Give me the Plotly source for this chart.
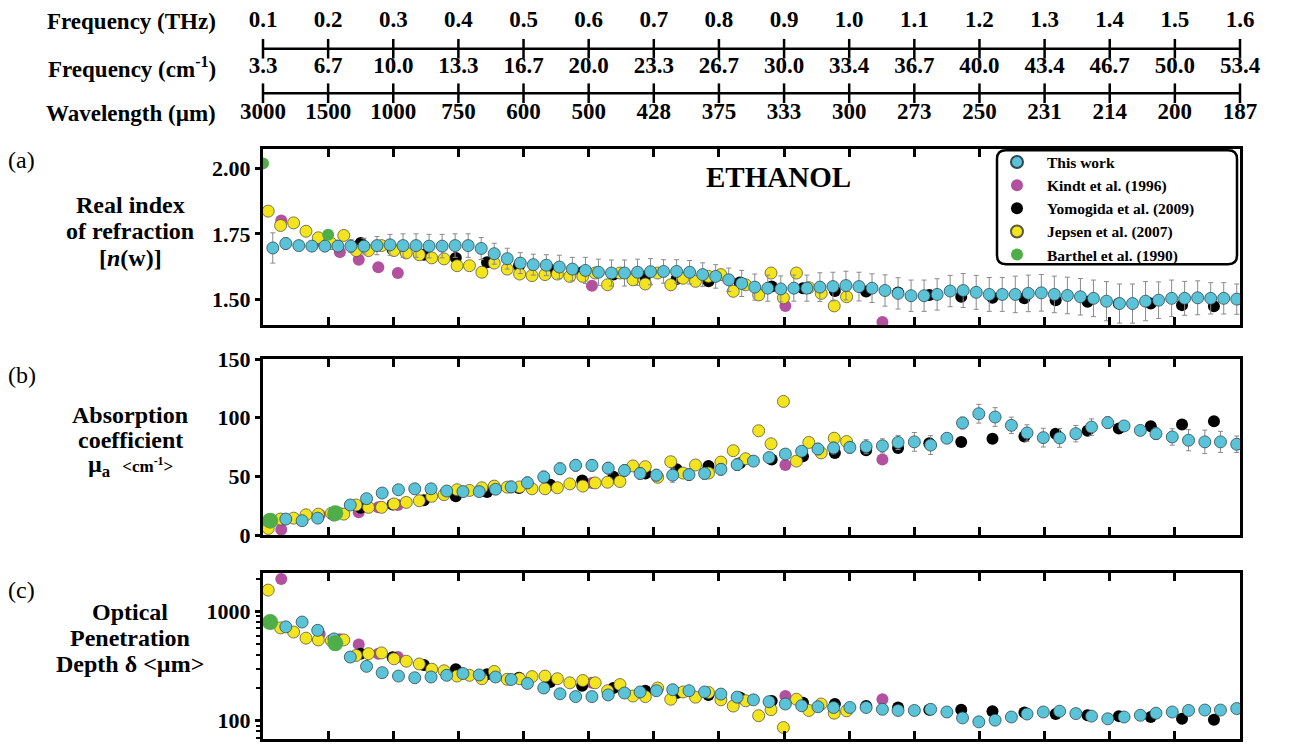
import plotly.graph_objects as go

# ---------------- DATA ----------------
thz_ticks = [0.1, 0.2, 0.3, 0.4, 0.5, 0.6, 0.7, 0.8, 0.9, 1.0, 1.1, 1.2, 1.3, 1.4, 1.5, 1.6]
thz_labels = ["0.1", "0.2", "0.3", "0.4", "0.5", "0.6", "0.7", "0.8", "0.9", "1.0",
              "1.1", "1.2", "1.3", "1.4", "1.5", "1.6"]
wn_labels = ["3.3", "6.7", "10.0", "13.3", "16.7", "20.0", "23.3", "26.7", "30.0", "33.4",
             "36.7", "40.0", "43.4", "46.7", "50.0", "53.4"]
wl_labels = ["3000", "1500", "1000", "750", "600", "500", "428", "375", "333", "300",
             "273", "250", "231", "214", "200", "187"]

# This work - refractive index (panel a)
tw_n_x = [0.115, 0.135, 0.155, 0.175, 0.195, 0.215, 0.235, 0.255, 0.275, 0.295,
          0.315, 0.335, 0.355, 0.375, 0.395, 0.415, 0.435, 0.455, 0.475, 0.495,
          0.515, 0.535, 0.555, 0.575, 0.595, 0.615, 0.635, 0.655, 0.675, 0.695,
          0.715, 0.735, 0.755, 0.775, 0.795, 0.815, 0.835, 0.855, 0.875, 0.895,
          0.915, 0.935, 0.955, 0.975, 0.995, 1.015, 1.035, 1.055, 1.075, 1.095,
          1.115, 1.135, 1.155, 1.175, 1.195, 1.215, 1.235, 1.255, 1.275, 1.295,
          1.315, 1.335, 1.355, 1.375, 1.395, 1.415, 1.435, 1.455, 1.475, 1.495,
          1.515, 1.535, 1.555, 1.575, 1.595]
tw_n = [1.696, 1.713, 1.705, 1.703, 1.703, 1.703, 1.703, 1.703, 1.705, 1.708,
        1.705, 1.705, 1.703, 1.703, 1.705, 1.705, 1.694, 1.674, 1.655, 1.638,
        1.632, 1.630, 1.623, 1.615, 1.610, 1.603, 1.600, 1.600, 1.603, 1.605,
        1.606, 1.606, 1.603, 1.594, 1.587, 1.574, 1.560, 1.546, 1.542, 1.539,
        1.542, 1.542, 1.546, 1.548, 1.552, 1.548, 1.542, 1.533, 1.522, 1.513,
        1.513, 1.518, 1.531, 1.533, 1.526, 1.518, 1.518, 1.518, 1.522, 1.524,
        1.518, 1.514, 1.509, 1.503, 1.492, 1.483, 1.483, 1.492, 1.496, 1.503,
        1.503, 1.505, 1.503, 1.503, 1.500]
tw_n_err = [0.058, 0.022, 0.018, 0.018, 0.020, 0.022, 0.025, 0.030, 0.035, 0.040,
            0.045, 0.045, 0.045, 0.045, 0.045, 0.045, 0.042, 0.040, 0.040, 0.040,
            0.040, 0.040, 0.045, 0.045, 0.050, 0.050, 0.050, 0.050, 0.050, 0.050,
            0.045, 0.045, 0.045, 0.045, 0.045, 0.045, 0.050, 0.050, 0.050, 0.050,
            0.050, 0.050, 0.055, 0.055, 0.055, 0.055, 0.055, 0.060, 0.060, 0.060,
            0.060, 0.060, 0.060, 0.065, 0.065, 0.065, 0.065, 0.070, 0.070, 0.070,
            0.070, 0.070, 0.070, 0.070, 0.075, 0.075, 0.075, 0.075, 0.070, 0.070,
            0.065, 0.065, 0.060, 0.060, 0.058]

# This work - absorption coefficient and penetration depth (panels b, c)
tw_mu_x = [0.135, 0.160, 0.184, 0.209, 0.234, 0.259, 0.283, 0.308, 0.333, 0.358,
           0.382, 0.407, 0.432, 0.457, 0.481, 0.506, 0.531, 0.556, 0.580, 0.605,
           0.630, 0.655, 0.679, 0.704, 0.729, 0.754, 0.778, 0.803, 0.828, 0.853,
           0.877, 0.902, 0.927, 0.952, 0.976, 1.001, 1.026, 1.051, 1.075, 1.100,
           1.125, 1.150, 1.174, 1.199, 1.224, 1.249, 1.273, 1.298, 1.323, 1.348,
           1.372, 1.397, 1.422, 1.447, 1.471, 1.496, 1.521, 1.546, 1.570, 1.595]
tw_mu = [13.6, 12.2, 14.4, 17.0, 25.6, 31.0, 35.8, 38.6, 39.4, 39.4,
         37.5, 37.0, 37.0, 39.0, 41.0, 44.5, 49.5, 56.5, 59.4, 59.4,
         57.0, 55.0, 52.5, 51.0, 51.0, 51.5, 52.5, 56.0, 60.0, 63.0,
         66.0, 69.0, 71.4, 73.3, 74.2, 74.7, 75.3, 76.0, 78.9, 79.4,
         76.7, 82.5, 95.5, 103.4, 100.6, 93.5, 87.0, 83.0, 82.8, 86.4,
         92.0, 95.8, 93.0, 89.2, 86.4, 83.6, 80.8, 79.4, 79.4, 77.4]
tw_mu_err = [1.5, 1.5, 1.5, 1.5, 2, 3, 3, 3, 3, 3,
             3.5, 4, 4, 4, 5, 5, 5, 5, 5, 5,
             5, 5, 5, 5, 6, 5, 5, 5, 5, 4,
             4, 4, 4, 5, 5, 5, 6, 6, 6, 8,
             8, 2, 5, 8, 8, 7, 7, 8, 8, 7,
             7, 5, 3, 3, 5, 7, 9, 10, 9, 7]
tw_delta = [722, 799, 671, 560, 382, 314, 275, 256, 247, 251,
            260, 270, 262, 251, 238, 219, 199, 176, 166, 166,
            172, 179, 183, 188, 192, 188, 183, 175, 164, 155,
            149, 142, 137, 134, 132, 132, 132, 127, 124, 124,
            127, 120, 106, 97.5, 101, 108, 115, 120, 122, 116,
            110, 104, 108, 112, 117, 120, 124, 125, 125, 129]

# Kindt et al. (1996)
kindt_x = [0.128, 0.187, 0.218, 0.247, 0.277, 0.307, 0.605, 0.902, 1.051]
kindt_n = [1.801, 1.722, 1.680, 1.651, 1.622, 1.600, 1.551, 1.474, 1.412]
kindt_mu = [4.7, 17.2, 18.6, 19.4, 23.6, 25.6, 44.4, 59.7, 64.4]
kindt_delta = [1976, 620, 556, 499, 410, 382, 222, 168, 157]

# Yomogida et al. (2009)
yomo_x = [0.250, 0.299, 0.347, 0.396, 0.444, 0.493, 0.541, 0.590, 0.638, 0.687,
          0.735, 0.784, 0.832, 0.881, 0.929, 0.978, 1.026, 1.075, 1.123, 1.172,
          1.220, 1.269, 1.317, 1.366, 1.414, 1.463, 1.511, 1.560]
yomo_n = [1.715, 1.690, 1.670, 1.658, 1.641, 1.628, 1.613, 1.603, 1.594, 1.587,
          1.577, 1.568, 1.564, 1.548, 1.542, 1.531, 1.529, 1.525, 1.516, 1.509,
          1.505, 1.503, 1.496, 1.490, 1.483, 1.483, 1.477, 1.473]
yomo_mu = [23.3, 26.1, 29.7, 33.0, 36.7, 40.0, 42.8, 46.4, 49.7, 52.5,
           56.1, 58.9, 61.1, 64.4, 67.2, 70.0, 72.2, 74.2, 78.3, 79.3,
           82.0, 84.0, 86.4, 88.8, 90.9, 92.7, 94.3, 96.9]
yomo_delta = [410, 380, 323, 296, 266, 247, 226, 209, 199, 188,
              179, 172, 163, 151, 146, 142, 136, 132, 126, 126,
              122, 119, 115, 112, 110, 108, 104, 102]

# Jepsen et al. (2007)
jep_x = [0.108, 0.127, 0.147, 0.166, 0.185, 0.205, 0.224, 0.243, 0.262, 0.282,
         0.301, 0.320, 0.340, 0.359, 0.378, 0.398, 0.417, 0.436, 0.455, 0.475,
         0.494, 0.513, 0.533, 0.552, 0.571, 0.591, 0.610, 0.629, 0.648, 0.668,
         0.687, 0.706, 0.726, 0.745, 0.764, 0.784, 0.803, 0.822, 0.841, 0.861,
         0.880, 0.899, 0.919, 0.938, 0.957, 0.977, 0.996]
jep_n = [1.837, 1.782, 1.792, 1.760, 1.735, 1.713, 1.744, 1.686, 1.686, 1.705,
         1.686, 1.677, 1.670, 1.658, 1.654, 1.628, 1.628, 1.603, 1.638, 1.615,
         1.596, 1.590, 1.594, 1.596, 1.587, 1.587, 1.600, 1.555, 1.600, 1.574,
         1.558, 1.600, 1.555, 1.580, 1.568, 1.587, 1.594, 1.530, 1.555, 1.516,
         1.600, 1.505, 1.600, 1.544, 1.522, 1.474, 1.509]
jep_mu = [5.6, 13.6, 14.4, 17.2, 17.8, 18.5, 17.8, 25.6, 23.6, 23.6,
          26.5, 27.8, 29.2, 33.0, 34.4, 38.6, 38.0, 40.3, 41.7, 40.8,
          41.0, 39.4, 39.4, 40.3, 43.6, 41.7, 44.4, 45.0, 45.6, 58.9,
          58.3, 49.2, 62.5, 52.8, 59.7, 52.8, 62.2, 71.9, 65.0, 88.9,
          77.8, 113.9, 63.0, 78.9, 70.0, 82.5, 79.7]
jep_delta = [1566, 706, 647, 569, 548, 540, 548, 395, 410, 417,
             368, 350, 330, 296, 286, 256, 260, 242, 282, 239,
             242, 253, 256, 242, 222, 233, 222, 188, 214, 168,
             166, 199, 157, 183, 164, 181, 155, 136, 152, 111,
             126, 86.5, 157, 124, 142, 117, 123]

# Barthel et al. (1990)
bart_n_x = [0.100, 0.200]
bart_n = [2.020, 1.747]
bart_mu_x = [0.111, 0.211]
bart_mu = [12.2, 18.6]
bart_delta = [799, 510]

# ---------------- STYLE ----------------
SERIF = "Liberation Serif, Times New Roman, serif"
C_TW = "#5BC3D8"
C_KI = "#B2519F"
C_YO = "#000000"
C_JE = "#F3E41E"
C_BA = "#4FAE48"

W, H = 1300, 752
X_DOM = [263 / W, 1240 / W]
A_DOM = [1 - 324 / H, 1 - 142 / H]
B_DOM = [1 - 541 / H, 1 - 359 / H]
C_DOM = [0.0, 1 - 580 / H]
TOP_DOM = [1 - 125 / H, 1.0]

fig = go.Figure()


def add_panel(xa, ya, kindt, yomo, jep, tw, tw_x, tw_err, bart, bart_x, green_size, show):
    fig.add_trace(go.Scatter(x=kindt_x, y=kindt, mode="markers", name="Kindt et al. (1996)",
                             legendgroup="ki", showlegend=show, legendrank=2,
                             marker=dict(color=C_KI, size=12, line=dict(width=0)),
                             xaxis=xa, yaxis=ya))
    fig.add_trace(go.Scatter(x=yomo_x, y=yomo, mode="markers", name="Yomogida et al. (2009)",
                             legendgroup="yo", showlegend=show, legendrank=3,
                             marker=dict(color=C_YO, size=12, line=dict(width=0)),
                             xaxis=xa, yaxis=ya))
    fig.add_trace(go.Scatter(x=jep_x, y=jep, mode="markers", name="Jepsen et al. (2007)",
                             legendgroup="je", showlegend=show, legendrank=4,
                             marker=dict(color=C_JE, size=12, line=dict(width=0.8, color="#5a5a3a")),
                             xaxis=xa, yaxis=ya))
    err = None
    if tw_err is not None:
        err = dict(type="data", array=tw_err, visible=True, color="#8a8a8a",
                   thickness=1, width=2.5)
    fig.add_trace(go.Scatter(x=tw_x, y=tw, mode="markers", name="This work",
                             legendgroup="tw", showlegend=show, legendrank=1,
                             error_y=err,
                             marker=dict(color=C_TW, size=12, line=dict(width=0.8, color="#2f4a52")),
                             xaxis=xa, yaxis=ya))
    fig.add_trace(go.Scatter(x=bart_x, y=bart, mode="markers", name="Barthel et al. (1990)",
                             legendgroup="ba", showlegend=show, legendrank=5,
                             marker=dict(color=C_BA, size=green_size, line=dict(width=0)),
                             xaxis=xa, yaxis=ya))


add_panel("x", "y", kindt_n, yomo_n, jep_n, tw_n, tw_n_x, tw_n_err, bart_n, bart_n_x, 12, True)
add_panel("x2", "y2", kindt_mu, yomo_mu, jep_mu, tw_mu, tw_mu_x, tw_mu_err, bart_mu, bart_mu_x, 16, False)
add_panel("x3", "y3", kindt_delta, yomo_delta, jep_delta, tw_delta, tw_mu_x, None, bart_delta, bart_mu_x, 16, False)

# ---------- top frequency / wavelength scales (rows in pixels from the top) ----------
ROW_THZ, ROW_L1, ROW_WN, ROW_L2, ROW_WL = 10, 38, 57, 84, 105
for row in (ROW_L1, ROW_L2):
    fig.add_trace(go.Scatter(x=thz_ticks, y=[row] * len(thz_ticks), mode="lines+markers",
                             line=dict(color="black", width=2.5),
                             marker=dict(symbol="line-ns", size=14, color="black",
                                         line=dict(width=2.5, color="black")),
                             showlegend=False, hoverinfo="skip", cliponaxis=False,
                             xaxis="x4", yaxis="y7"))
TOP_FONT = dict(family=SERIF, size=23, color="black", weight="bold")
for row, labels in [(ROW_THZ, thz_labels), (ROW_WN, wn_labels), (ROW_WL, wl_labels)]:
    fig.add_trace(go.Scatter(x=thz_ticks, y=[row] * len(thz_ticks), mode="text", text=labels,
                             textposition="middle center", textfont=TOP_FONT,
                             showlegend=False, hoverinfo="skip", cliponaxis=False,
                             xaxis="x4", yaxis="y7"))

tickfont = dict(family=SERIF, size=22, color="black", weight="bold")


def xaxis_def(anchor):
    return dict(domain=X_DOM, range=[0.1, 1.6], anchor=anchor, showline=True, linewidth=3,
                linecolor="black", mirror="ticks", ticks="inside", ticklen=8, tickwidth=2.5,
                tickcolor="black", tickmode="array", tickvals=thz_ticks, showticklabels=False,
                showgrid=False, zeroline=False)


def yaxis_def(dom, anchor, rng, tickvals, ticktext, log=False, minor=None):
    d = dict(domain=dom, anchor=anchor, range=rng, tickmode="array", tickvals=tickvals,
             ticktext=ticktext, ticks="outside", ticklen=5, tickwidth=2.5, tickcolor="black",
             showline=True, linewidth=3, linecolor="black", mirror=True, showgrid=False,
             zeroline=False, tickfont=tickfont)
    if log:
        d["type"] = "log"
    if minor is not None:
        d["minor"] = minor
    return d


def yaxis_right(over, anchor, rng, tickvals, ticktext, log=False, minor=None):
    d = dict(overlaying=over, anchor=anchor, side="right", range=rng, tickmode="array",
             tickvals=tickvals, ticktext=ticktext, ticks="outside", ticklen=5, tickwidth=2.5,
             tickcolor="black", showline=False, showgrid=False, zeroline=False,
             tickfont=tickfont)
    if log:
        d["type"] = "log"
    if minor is not None:
        d["minor"] = minor
    return d


n_ticks = [1.5, 1.75, 2.0]
n_text = ["1.50", "1.75", "2.00"]
mu_ticks = [0, 50, 100, 150]
mu_text = ["0", "50", "100", "150"]
d_ticks = [100, 1000]
d_text = ["100", "1000"]
d_minor = [60, 70, 80, 90, 200, 300, 400, 500, 600, 700, 800, 900, 2000]
minor_def = dict(tickmode="array", tickvals=d_minor, ticks="outside", ticklen=4,
                 tickwidth=2, tickcolor="black", showgrid=False)

N_RANGE = [1.400, 2.074]
MU_RANGE = [0, 150]
D_RANGE = [1.832, 3.354]

ann_font = dict(family=SERIF, size=23, color="black", weight="bold")
lab_font = dict(family=SERIF, size=24, color="black", weight="bold")
annotations = []
for txt, yy in [("Frequency (THz)", ROW_THZ), ("Frequency (cm<sup>-1</sup>)", ROW_WN),
                ("Wavelength (µm)", ROW_WL)]:
    annotations.append(dict(text=txt, x=218 / W, y=1 - yy / H, xref="paper", yref="paper",
                            xanchor="right", yanchor="middle", showarrow=False, font=ann_font))
for txt, yy in [("(a)", 153), ("(b)", 375), ("(c)", 598)]:
    annotations.append(dict(text=txt, x=6 / W, y=1 - yy / H, xref="paper", yref="paper",
                            xanchor="left", yanchor="middle", showarrow=False,
                            font=dict(family=SERIF, size=24, color="black")))
side_labels = [
    ("Real index", 200), ("of refraction", 227), ("[<i>n</i>(w)]", 254),
    ("Absorption", 417), ("coefficient", 443),
    ("µ<sub>a</sub>  <span style='font-size:17px'>&lt;cm<sup>-1</sup>&gt;</span>", 470),
    ("Optical", 621), ("Penetration", 648), ("Depth δ &lt;µm&gt;", 674),
]
for txt, yy in side_labels:
    annotations.append(dict(text=txt, x=130 / W, y=1 - yy / H, xref="paper", yref="paper",
                            xanchor="center", yanchor="middle", align="center", showarrow=False,
                            font=lab_font))
annotations.append(dict(text="ETHANOL", x=778 / W, y=1 - 171 / H, xref="paper", yref="paper",
                        xanchor="center", yanchor="middle", showarrow=False,
                        font=dict(family=SERIF, size=29, color="black", weight="bold")))

# rounded legend frame (paper coordinates)
LX0, LX1, LY0, LY1, LR = 997 / W, 1237 / W, 1 - 261 / H, 1 - 143 / H, 9
rx, ry = LR / W, LR / H
legend_path = (f"M {LX0 + rx},{LY1} L {LX1 - rx},{LY1} Q {LX1},{LY1} {LX1},{LY1 - ry} "
               f"L {LX1},{LY0 + ry} Q {LX1},{LY0} {LX1 - rx},{LY0} "
               f"L {LX0 + rx},{LY0} Q {LX0},{LY0} {LX0},{LY0 + ry} "
               f"L {LX0},{LY1 - ry} Q {LX0},{LY1} {LX0 + rx},{LY1} Z")
shapes = [dict(type="path", path=legend_path, xref="paper", yref="paper",
               line=dict(color="black", width=2.5), fillcolor="white", layer="above")]

fig.update_layout(
    width=W, height=H,
    margin=dict(l=0, r=0, t=0, b=0),
    paper_bgcolor="white", plot_bgcolor="white",
    showlegend=True,
    legend=dict(x=987 / W, y=1 - 138 / H, xanchor="left", yanchor="top",
                bgcolor="rgba(0,0,0,0)", borderwidth=0,
                font=dict(family=SERIF, size=15.5, color="black", weight="bold"),
                itemsizing="constant", tracegroupgap=0, itemwidth=50,
                traceorder="normal"),
    xaxis=xaxis_def("y"),
    xaxis2=xaxis_def("y2"),
    xaxis3=xaxis_def("y3"),
    yaxis=yaxis_def(A_DOM, "x", N_RANGE, n_ticks, n_text),
    yaxis2=yaxis_def(B_DOM, "x2", MU_RANGE, mu_ticks, mu_text),
    yaxis3=yaxis_def(C_DOM, "x3", D_RANGE, d_ticks, d_text, log=True, minor=minor_def),
    yaxis4=yaxis_right("y", "x", N_RANGE, n_ticks, n_text),
    yaxis5=yaxis_right("y2", "x2", MU_RANGE, mu_ticks, mu_text),
    yaxis6=yaxis_right("y3", "x3", D_RANGE, d_ticks, d_text, log=True, minor=minor_def),
    xaxis4=dict(domain=X_DOM, range=[0.1, 1.6], anchor="y7", visible=False),
    yaxis7=dict(domain=TOP_DOM, range=[125, 0], anchor="x4", visible=False),
    annotations=annotations,
    shapes=shapes,
)

fig.write_html("out.html")
